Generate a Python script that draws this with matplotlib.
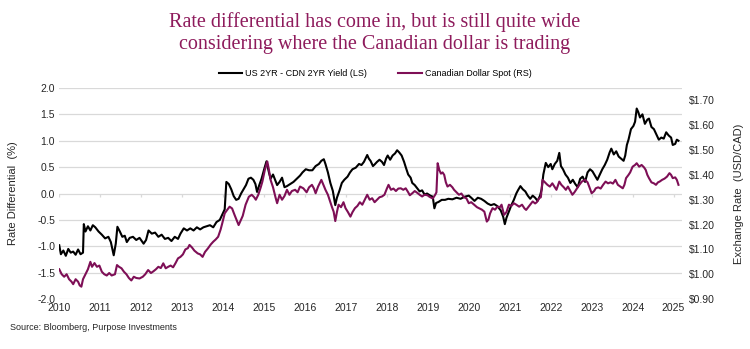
import matplotlib
matplotlib.use('Agg')
import matplotlib.pyplot as plt
from matplotlib.ticker import FuncFormatter

# Données (années décimales)
t_spread = [2010.00, 2010.04, 2010.10, 2010.16, 2010.22, 2010.28, 2010.34, 2010.40, 2010.46, 2010.52,
            2010.58, 2010.60, 2010.64, 2010.70, 2010.76, 2010.82, 2010.88, 2010.96, 2011.04, 2011.12,
            2011.20, 2011.26, 2011.33, 2011.38, 2011.42, 2011.48, 2011.54, 2011.60, 2011.65, 2011.72,
            2011.80, 2011.88, 2011.96, 2012.06, 2012.12, 2012.18, 2012.26, 2012.34, 2012.42, 2012.50,
            2012.58, 2012.66, 2012.74, 2012.82, 2012.90, 2012.96, 2013.04, 2013.12, 2013.20, 2013.28,
            2013.36, 2013.44, 2013.52, 2013.60, 2013.68, 2013.76, 2013.84, 2013.92, 2013.98, 2014.04,
            2014.08, 2014.14, 2014.20, 2014.26, 2014.32, 2014.38, 2014.44, 2014.50, 2014.56, 2014.62,
            2014.68, 2014.74, 2014.79, 2014.83, 2014.88, 2014.94, 2015.00, 2015.06, 2015.12, 2015.16,
            2015.22, 2015.28, 2015.32, 2015.38, 2015.44, 2015.50, 2015.56, 2015.64, 2015.72, 2015.80,
            2015.88, 2015.94, 2016.02, 2016.10, 2016.18, 2016.26, 2016.34, 2016.40, 2016.46, 2016.50,
            2016.56, 2016.62, 2016.68, 2016.74, 2016.78, 2016.84, 2016.90, 2016.96, 2017.04, 2017.10,
            2017.16, 2017.24, 2017.32, 2017.38, 2017.44, 2017.52, 2017.56, 2017.60, 2017.66, 2017.70,
            2017.76, 2017.82, 2017.88, 2017.93, 2017.98, 2018.02, 2018.08, 2018.14, 2018.20, 2018.25,
            2018.30, 2018.36, 2018.42, 2018.46, 2018.52, 2018.58, 2018.62, 2018.68, 2018.74, 2018.80,
            2018.86, 2018.92, 2018.98, 2019.06, 2019.12, 2019.16, 2019.20, 2019.26, 2019.34, 2019.42,
            2019.50, 2019.60, 2019.70, 2019.80, 2019.90, 2020.00, 2020.06, 2020.14, 2020.22, 2020.30,
            2020.38, 2020.46, 2020.54, 2020.62, 2020.70, 2020.78, 2020.84, 2020.88, 2020.92, 2020.98,
            2021.04, 2021.10, 2021.16, 2021.20, 2021.26, 2021.32, 2021.38, 2021.44, 2021.50, 2021.56,
            2021.62, 2021.68, 2021.74, 2021.78, 2021.82, 2021.88, 2021.94, 2022.00, 2022.04, 2022.10,
            2022.16, 2022.21, 2022.25, 2022.30, 2022.36, 2022.42, 2022.48, 2022.54, 2022.60, 2022.66,
            2022.72, 2022.78, 2022.84, 2022.90, 2022.96, 2023.02, 2023.08, 2023.14, 2023.20, 2023.26,
            2023.32, 2023.38, 2023.44, 2023.48, 2023.54, 2023.60, 2023.66, 2023.72, 2023.78, 2023.82,
            2023.86, 2023.90, 2023.96, 2024.02, 2024.06, 2024.10, 2024.14, 2024.18, 2024.24, 2024.30,
            2024.36, 2024.40, 2024.46, 2024.52, 2024.58, 2024.64, 2024.70, 2024.76, 2024.82, 2024.88,
            2024.94, 2024.98, 2025.04, 2025.08, 2025.12]
spread = [-0.98, -1.15, -1.08, -1.18, -1.05, -1.12, -1.10, -1.16, -1.06, -1.15,
          -1.12, -0.58, -0.72, -0.62, -0.70, -0.60, -0.64, -0.72, -0.78, -0.85,
          -0.82, -0.92, -1.17, -0.95, -0.63, -0.72, -0.82, -0.80, -0.92, -0.84,
          -0.82, -0.88, -0.84, -0.95, -0.88, -0.70, -0.76, -0.74, -0.82, -0.78,
          -0.86, -0.84, -0.90, -0.82, -0.86, -0.76, -0.66, -0.70, -0.66, -0.70,
          -0.64, -0.68, -0.64, -0.62, -0.60, -0.64, -0.54, -0.50, -0.40, -0.30,
          0.22, 0.18, 0.08, -0.05, -0.12, -0.10, 0.00, 0.08, 0.16, 0.28,
          0.30, 0.26, 0.18, 0.03, 0.15, 0.28, 0.45, 0.61, 0.40, 0.28,
          0.36, 0.24, 0.16, 0.22, 0.30, 0.12, 0.14, 0.18, 0.22, 0.28,
          0.34, 0.40, 0.46, 0.44, 0.44, 0.52, 0.56, 0.62, 0.65, 0.56,
          0.40, 0.20, 0.05, -0.22, -0.08, 0.05, 0.20, 0.26, 0.32, 0.40,
          0.46, 0.49, 0.56, 0.54, 0.60, 0.73, 0.66, 0.62, 0.52, 0.55,
          0.60, 0.64, 0.60, 0.54, 0.66, 0.72, 0.64, 0.72, 0.76, 0.82,
          0.78, 0.72, 0.60, 0.50, 0.36, 0.30, 0.20, 0.16, 0.10, 0.04,
          0.06, -0.02, 0.00, -0.04, -0.06, -0.28, -0.18, -0.16, -0.12, -0.12,
          -0.10, -0.11, -0.08, -0.10, -0.06, -0.04, -0.08, -0.14, -0.08, -0.10,
          -0.14, -0.19, -0.22, -0.20, -0.24, -0.32, -0.44, -0.58, -0.46, -0.34,
          -0.22, -0.12, 0.00, 0.06, 0.14, 0.08, 0.04, -0.04, -0.10, -0.04,
          -0.08, -0.14, -0.04, 0.08, 0.36, 0.58, 0.50, 0.56, 0.46, 0.56,
          0.62, 0.77, 0.52, 0.46, 0.36, 0.30, 0.20, 0.26, 0.18, 0.12,
          0.28, 0.32, 0.22, 0.40, 0.46, 0.42, 0.34, 0.26, 0.36, 0.46,
          0.54, 0.64, 0.78, 0.85, 0.74, 0.80, 0.70, 0.66, 0.62, 0.72,
          0.92, 1.02, 1.22, 1.28, 1.36, 1.61, 1.54, 1.44, 1.50, 1.32,
          1.40, 1.42, 1.26, 1.22, 1.12, 1.02, 1.06, 1.04, 1.16, 1.10,
          1.06, 0.92, 0.94, 1.02, 1.00]

t_cad = [2010.00, 2010.06, 2010.12, 2010.18, 2010.24, 2010.30, 2010.34, 2010.40, 2010.46, 2010.50,
         2010.54, 2010.58, 2010.64, 2010.70, 2010.76, 2010.80, 2010.86, 2010.92, 2010.98, 2011.04,
         2011.10, 2011.16, 2011.22, 2011.28, 2011.36, 2011.41, 2011.46, 2011.52, 2011.58, 2011.64,
         2011.70, 2011.76, 2011.82, 2011.88, 2011.96, 2012.04, 2012.10, 2012.17, 2012.24, 2012.30,
         2012.36, 2012.42, 2012.48, 2012.54, 2012.60, 2012.66, 2012.72, 2012.78, 2012.84, 2012.90,
         2012.96, 2013.02, 2013.08, 2013.14, 2013.18, 2013.24, 2013.30, 2013.38, 2013.44, 2013.50,
         2013.56, 2013.63, 2013.70, 2013.76, 2013.82, 2013.88, 2013.94, 2013.98, 2014.04, 2014.10,
         2014.16, 2014.22, 2014.28, 2014.34, 2014.38, 2014.44, 2014.48, 2014.55, 2014.63, 2014.70,
         2014.76, 2014.80, 2014.86, 2014.92, 2014.96, 2015.02, 2015.08, 2015.12, 2015.16, 2015.22,
         2015.28, 2015.32, 2015.38, 2015.44, 2015.50, 2015.56, 2015.62, 2015.68, 2015.76, 2015.82,
         2015.88, 2015.96, 2016.04, 2016.10, 2016.17, 2016.22, 2016.26, 2016.32, 2016.40, 2016.45,
         2016.50, 2016.56, 2016.62, 2016.66, 2016.70, 2016.74, 2016.78, 2016.82, 2016.88, 2016.94,
         2016.99, 2017.05, 2017.11, 2017.16, 2017.22, 2017.28, 2017.34, 2017.40, 2017.46, 2017.52,
         2017.58, 2017.64, 2017.70, 2017.76, 2017.82, 2017.88, 2017.94, 2018.00, 2018.04, 2018.10,
         2018.16, 2018.22, 2018.28, 2018.34, 2018.40, 2018.46, 2018.52, 2018.56, 2018.62, 2018.68,
         2018.74, 2018.80, 2018.86, 2018.92, 2018.99, 2019.06, 2019.12, 2019.18, 2019.21, 2019.24,
         2019.28, 2019.32, 2019.36, 2019.40, 2019.44, 2019.48, 2019.54, 2019.60, 2019.64, 2019.70,
         2019.76, 2019.82, 2019.88, 2019.94, 2020.00, 2020.06, 2020.13, 2020.20, 2020.25, 2020.32,
         2020.38, 2020.44, 2020.48, 2020.52, 2020.58, 2020.64, 2020.70, 2020.76, 2020.80, 2020.86,
         2020.92, 2020.98, 2021.04, 2021.10, 2021.16, 2021.23, 2021.30, 2021.36, 2021.40, 2021.46,
         2021.52, 2021.56, 2021.62, 2021.66, 2021.72, 2021.76, 2021.80, 2021.86, 2021.92, 2021.98,
         2022.04, 2022.10, 2022.14, 2022.21, 2022.26, 2022.32, 2022.37, 2022.42, 2022.48, 2022.53,
         2022.58, 2022.64, 2022.70, 2022.76, 2022.84, 2022.90, 2022.94, 2023.00, 2023.06, 2023.10,
         2023.16, 2023.22, 2023.28, 2023.34, 2023.40, 2023.46, 2023.52, 2023.58, 2023.64, 2023.70,
         2023.76, 2023.80, 2023.84, 2023.90, 2023.94, 2024.00, 2024.06, 2024.10, 2024.16, 2024.22,
         2024.28, 2024.32, 2024.36, 2024.40, 2024.46, 2024.52, 2024.57, 2024.62, 2024.66, 2024.72,
         2024.78, 2024.84, 2024.90, 2024.94, 2024.98, 2025.04, 2025.08, 2025.12]
cad = [1.020, 1.000, 0.990, 1.000, 0.980, 0.970, 0.960, 0.980, 0.970, 0.955,
       0.950, 0.980, 1.000, 1.020, 1.050, 1.030, 1.045, 1.030, 1.035, 1.010,
       1.000, 0.995, 1.005, 0.995, 1.000, 1.037, 1.030, 1.024, 1.010, 1.000,
       0.985, 0.975, 0.990, 0.985, 0.983, 0.990, 1.000, 1.017, 1.005, 1.012,
       1.020, 1.030, 1.025, 1.044, 1.024, 1.030, 1.035, 1.028, 1.045, 1.064,
       1.070, 1.080, 1.100, 1.105, 1.118, 1.108, 1.095, 1.084, 1.080, 1.070,
       1.090, 1.104, 1.120, 1.131, 1.140, 1.151, 1.180, 1.205, 1.245, 1.259,
       1.272, 1.265, 1.239, 1.215, 1.198, 1.220, 1.235, 1.280, 1.312, 1.320,
       1.310, 1.300, 1.320, 1.350, 1.373, 1.420, 1.454, 1.420, 1.380, 1.350,
       1.310, 1.286, 1.320, 1.300, 1.315, 1.340, 1.320, 1.335, 1.340, 1.330,
       1.353, 1.346, 1.330, 1.350, 1.360, 1.345, 1.326, 1.353, 1.380, 1.360,
       1.340, 1.320, 1.290, 1.270, 1.252, 1.214, 1.250, 1.280, 1.270, 1.290,
       1.266, 1.250, 1.232, 1.250, 1.266, 1.275, 1.290, 1.280, 1.300, 1.320,
       1.300, 1.306, 1.290, 1.300, 1.310, 1.313, 1.320, 1.345, 1.360, 1.340,
       1.345, 1.335, 1.345, 1.346, 1.340, 1.346, 1.330, 1.318, 1.326, 1.335,
       1.328, 1.320, 1.313, 1.320, 1.318, 1.310, 1.305, 1.320, 1.330, 1.447,
       1.420, 1.405, 1.410, 1.400, 1.370, 1.353, 1.360, 1.350, 1.340, 1.330,
       1.320, 1.325, 1.310, 1.306, 1.286, 1.290, 1.280, 1.270, 1.266, 1.260,
       1.252, 1.212, 1.220, 1.245, 1.266, 1.260, 1.272, 1.270, 1.280, 1.239,
       1.250, 1.280, 1.275, 1.286, 1.280, 1.272, 1.280, 1.265, 1.259, 1.272,
       1.285, 1.293, 1.285, 1.290, 1.306, 1.310, 1.380, 1.370, 1.360, 1.353,
       1.366, 1.350, 1.340, 1.373, 1.360, 1.350, 1.340, 1.353, 1.335, 1.320,
       1.330, 1.345, 1.360, 1.373, 1.380, 1.370, 1.353, 1.326, 1.335, 1.346,
       1.350, 1.345, 1.360, 1.373, 1.366, 1.370, 1.365, 1.380, 1.360, 1.353,
       1.346, 1.360, 1.387, 1.400, 1.410, 1.433, 1.440, 1.447, 1.433, 1.440,
       1.430, 1.420, 1.400, 1.387, 1.370, 1.366, 1.360, 1.370, 1.373, 1.380,
       1.385, 1.393, 1.407, 1.400, 1.387, 1.390, 1.380, 1.360]

years = list(range(2010, 2026))
left_ticks = [-2.0, -1.5, -1.0, -0.5, 0.0, 0.5, 1.0, 1.5, 2.0]
right_ticks = [0.90, 1.00, 1.10, 1.20, 1.30, 1.40, 1.50, 1.60, 1.70]

BLACK = '#000000'
PURPLE = '#7E0F56'
TITLE_COL = '#8E1B5C'
GRID = '#D9D9D9'
TXT = '#262626'

plt.rcParams['font.family'] = ['Liberation Sans', 'DejaVu Sans']

fig = plt.figure(figsize=(7.5, 3.49), dpi=100)
ax = fig.add_axes([0.079, 0.143, 0.830, 0.605])

for y in left_ticks:
    ax.axhline(y, color=GRID, lw=0.9, zorder=0)
ax.vlines(years, -0.07, 0, color=GRID, lw=0.9, zorder=0)

l1, = ax.plot(t_spread, spread, color=BLACK, lw=1.5, label='US 2YR - CDN 2YR Yield (LS)', zorder=3)
ax.set_xlim(2010, 2025.2)
ax.set_ylim(-2.0, 2.0)
ax.set_yticks(left_ticks)
ax.yaxis.set_major_formatter(FuncFormatter(lambda v, p: f'{v:.1f}'))
ax.set_xticks(years)
ax.set_xticklabels([str(y) for y in years])
ax.tick_params(length=0, labelsize=7.5, colors=TXT, pad=3)
ax.set_ylabel('Rate Differential  (%)', fontsize=8, color=TXT, labelpad=14)

ax2 = ax.twinx()
l2, = ax2.plot(t_cad, cad, color=PURPLE, lw=1.5, label='Canadian Dollar Spot (RS)', zorder=2)
ax2.set_ylim(0.90, 1.75)
ax2.set_yticks(right_ticks)
ax2.yaxis.set_major_formatter(FuncFormatter(lambda v, p: f'${v:.2f}'))
ax2.tick_params(length=0, labelsize=7.5, colors=TXT, pad=5)
ax2.set_ylabel('Exchange Rate  (USD/CAD)', fontsize=8, color=TXT, labelpad=14)

for a in (ax, ax2):
    for s in a.spines.values():
        s.set_visible(False)

fig.text(0.5, 0.905, 'Rate differential has come in, but is still quite wide\nconsidering where the Canadian dollar is trading',
         ha='center', va='center', fontsize=14.5, color=TITLE_COL, family='Liberation Serif', linespacing=1.2)

fig.legend(handles=[l1, l2], loc='center', bbox_to_anchor=(0.5, 0.79), ncol=2, frameon=False,
           fontsize=6.5, handlelength=2.6, columnspacing=3.5, handletextpad=0.3)

fig.text(0.013, 0.055, 'Source: Bloomberg, Purpose Investments', fontsize=6.5, color=TXT)

plt.savefig('out.png', dpi=100)
